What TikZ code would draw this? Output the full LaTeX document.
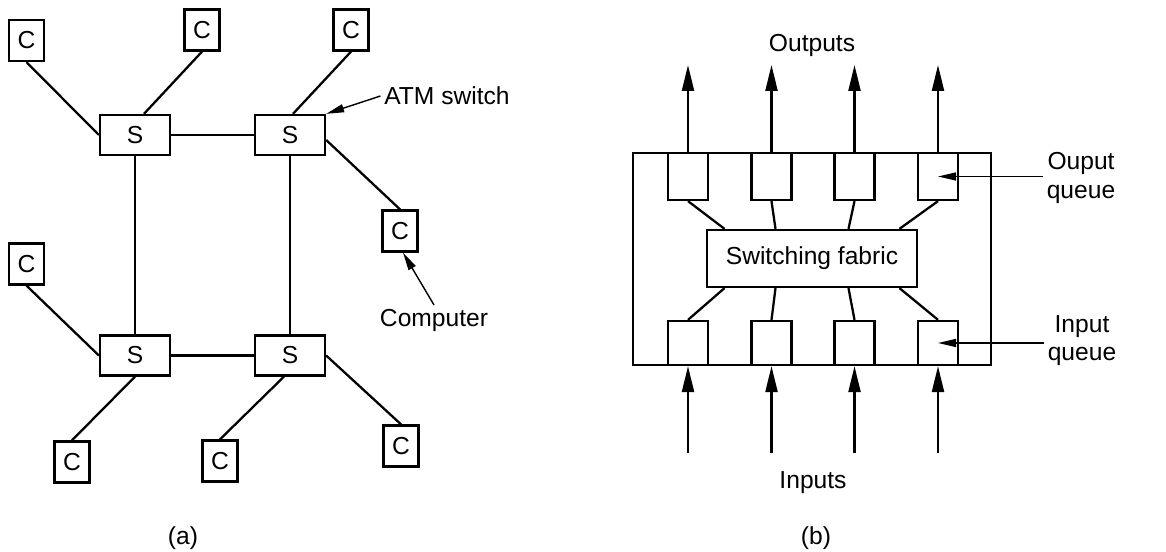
\documentclass[tikz,border=0pt]{standalone}
\usepackage{fontspec}
\setmainfont{Liberation Sans}
\usepackage{tikz}
\usetikzlibrary{arrows.meta,positioning}

\begin{document}
\begin{tikzpicture}[
  font=\fontsize{14}{16}\selectfont,
  cmp/.style={draw, line width=1.3pt, minimum width=0.7cm, minimum height=0.82cm, inner sep=0pt},
  sw/.style={draw, line width=1.3pt, minimum width=1.4cm, minimum height=0.8cm, inner sep=0pt},
  queue/.style={draw, line width=1.3pt, minimum width=0.8cm, minimum height=0.9cm, inner sep=0pt, fill=white},
  fab/.style={draw, line width=1.3pt, minimum width=4.2cm, minimum height=1.14cm, inner sep=0pt, fill=white},
  frame/.style={draw, line width=1.3pt, minimum width=7.16cm, minimum height=4.24cm},
  link/.style={line width=1.3pt},
  arr/.style={-{Triangle[length=5.2mm, width=2.4mm]}, line width=1.3pt},
  ptr/.style={-{Triangle[length=3.6mm, width=1.6mm]}, line width=0.8pt},
  lab/.style={inner sep=2pt, align=center}
]

\useasboundingbox (0,0) rectangle (23.32,11.04);

% (a) network of switches
\node[sw] at (2.70, 8.34) (s1) {S};
\node[sw] at (5.80, 8.34) (s2) {S};
\node[sw] at (2.70, 3.93) (s3) {S};
\node[sw] at (5.80, 3.93) (s4) {S};

\node[cmp] at (0.53, 10.23) (c1) {C};
\node[cmp] at (4.04, 10.44) (c2) {C};
\node[cmp] at (7.02, 10.44) (c3) {C};
\node[cmp] at (8.00, 6.42) (c4) {C};
\node[cmp] at (0.53, 5.76) (c5) {C};
\node[cmp] at (1.44, 1.80) (c6) {C};
\node[cmp] at (4.40, 1.82) (c7) {C};
\node[cmp] at (8.02, 2.12) (c8) {C};

\draw[link] (s1.east) -- (s2.west);
\draw[link] (s3.east) -- (s4.west);
\draw[link] (s1.south) -- (s3.north);
\draw[link] (s2.south) -- (s4.north);

\draw[link] (c1.south) -- (s1.west);
\draw[link] (c2.south) -- ([xshift=0.18cm]s1.north);
\draw[link] (c3.south) -- ([xshift=0.06cm]s2.north);
\draw[link] ([yshift=-0.1cm]s2.east) -- (c4.north);
\draw[link] (c5.south) -- (s3.west);
\draw[link] (s3.south) -- (c6.north);
\draw[link] ([xshift=-0.12cm]s4.south) -- (c7.north);
\draw[link] (s4.east) -- (c8.north);

\node[lab] at (8.94, 9.12) (atm) {ATM switch};
\node[lab] at (8.68, 4.64) (pc) {Computer};
\draw[ptr] (atm.west) -- (s2.north east);
\draw[ptr] (pc.north) -- ([xshift=0.06cm]c4.south);

\node[lab] at (3.66, 0.27) (capa) {(a)};

% (b) switch internals
\node[frame] at (16.24, 5.86) (unit) {};
\node[fab] at (16.24, 5.87) (fabric) {Switching fabric};

\foreach \i/\x/\d in {1/13.76/-1.75, 2/15.43/-0.73, 3/17.09/0.73, 4/18.76/1.75} {
  \node[queue, minimum height=0.94cm] at (\x, 7.51) (oq\i) {};
  \node[queue, minimum height=0.88cm] at (\x, 4.18) (iq\i) {};
  \coordinate (out\i) at (\x, 9.74);
  \coordinate (in\i) at (\x, 1.98);
  \draw[link] (oq\i.south) -- ([xshift=\d cm]fabric.north);
  \draw[link] ([xshift=\d cm]fabric.south) -- (iq\i.north);
  \draw[arr] (oq\i.north) -- (out\i);
  \draw[arr] (in\i) -- (iq\i.south);
}

\node[lab] at (16.24, 10.14) (outs) {Outputs};
\node[lab] at (16.26, 1.38) (ins) {Inputs};
\node[lab] at (21.62, 7.48) (oql) {Ouput\\queue};
\node[lab] at (21.64, 4.22) (iql) {Input\\queue};
\draw[ptr] (oql.west |- oq4.center) -- (oq4.center);
\draw[ptr] (iql.west |- iq4.center) -- (iq4.center);

\node[lab] at (16.32, 0.27) (capb) {(b)};

\end{tikzpicture}
\end{document}
